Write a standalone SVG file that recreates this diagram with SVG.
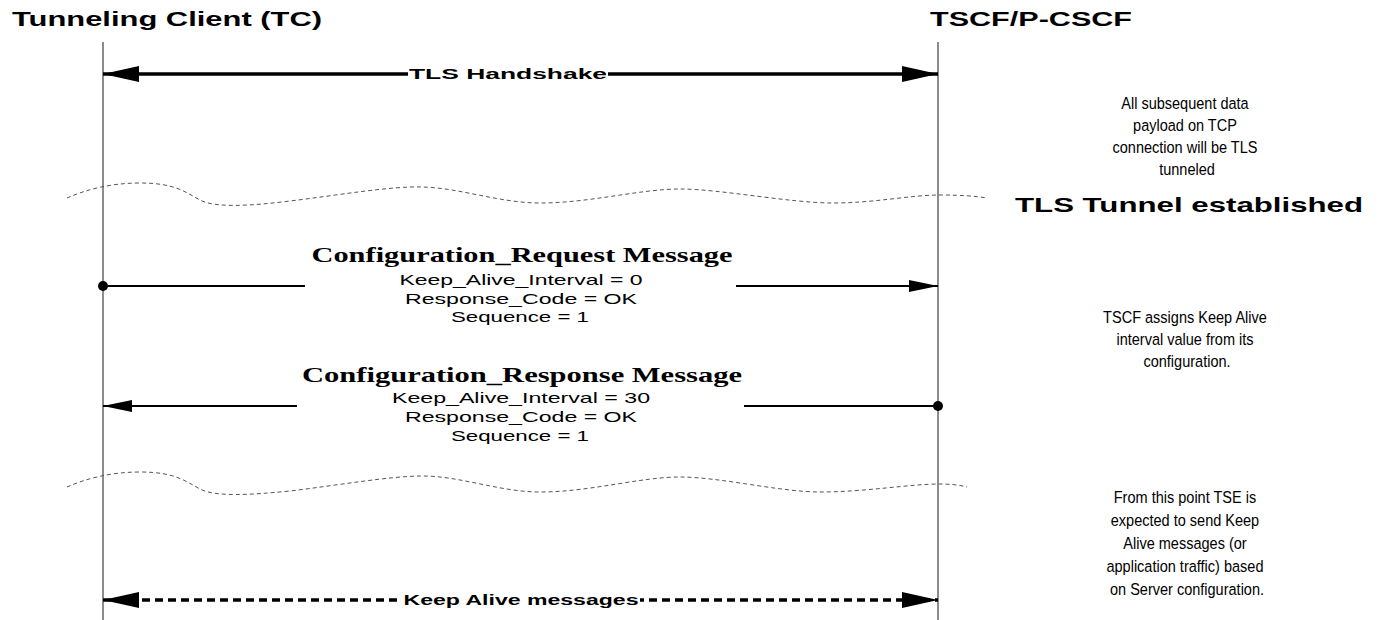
<svg xmlns="http://www.w3.org/2000/svg" width="1381" height="620" viewBox="0 0 1381 620">
  <style>
    .head { font-family: "Liberation Sans", Arial, sans-serif; font-weight: bold; font-size: 20px; fill: #000; }
    .lbl { font-family: "Liberation Sans", Arial, sans-serif; font-weight: bold; font-size: 14px; fill: #000; }
    .msg { font-family: "Liberation Serif", "Times New Roman", serif; font-weight: bold; font-size: 22px; fill: #000; }
    .par { font-family: "Liberation Sans", Arial, sans-serif; font-size: 14.5px; fill: #000; }
    .note { font-family: "Liberation Sans", Arial, sans-serif; font-size: 16.5px; fill: #000; }
    .state { font-family: "Liberation Sans", Arial, sans-serif; font-weight: bold; font-size: 21px; fill: #000; }
    .life { stroke: #666; stroke-width: 1.5; fill: none; }
    .wave { stroke: #555; stroke-width: 1; stroke-dasharray: 4 3; fill: none; }
    .thick { stroke: #000; stroke-width: 3.5; fill: none; }
    .dash { stroke: #000; stroke-width: 3.5; stroke-dasharray: 8 5; fill: none; }
    .thin { stroke: #000; stroke-width: 2; fill: none; }
  </style>
  <defs>
    <marker id="bigEnd" markerUnits="userSpaceOnUse" markerWidth="38" markerHeight="18" refX="36" refY="9" orient="auto">
      <polygon points="0,1 36,9 0,17" fill="#000"/>
    </marker>
    <marker id="bigStart" markerUnits="userSpaceOnUse" markerWidth="38" markerHeight="18" refX="0" refY="9" orient="auto">
      <polygon points="36,1 0,9 36,17" fill="#000"/>
    </marker>
    <marker id="smallEnd" markerUnits="userSpaceOnUse" markerWidth="30" markerHeight="14" refX="29" refY="7" orient="auto">
      <polygon points="0,1 29,7 0,13" fill="#000"/>
    </marker>
    <marker id="smallStart" markerUnits="userSpaceOnUse" markerWidth="30" markerHeight="14" refX="0" refY="7" orient="auto">
      <polygon points="29,1 0,7 29,13" fill="#000"/>
    </marker>
    <marker id="dot" markerUnits="userSpaceOnUse" markerWidth="12" markerHeight="12" refX="6" refY="6">
      <circle cx="6" cy="6" r="5" fill="#000"/>
    </marker>
  </defs>

  <!-- participants -->
  <g id="tc">
    <text class="head" x="12" y="26" textLength="310" lengthAdjust="spacingAndGlyphs">Tunneling Client (TC)</text>
    <line class="life" x1="103" y1="42" x2="103" y2="620"/>
  </g>
  <g id="tscf">
    <text class="head" x="930" y="26" textLength="202" lengthAdjust="spacingAndGlyphs">TSCF/P-CSCF</text>
    <line class="life" x1="938" y1="42" x2="938" y2="620"/>
  </g>

  <!-- state breaks -->
  <g id="break-tunnel">
    <path class="wave" d="M67,198 C85,190 110,183 140,183 C175,183 185,192 200,200 C215,208 250,206 290,201 C340,195 390,186 423,187 C460,188 500,203 540,203 C590,203 640,189 680,189 C720,189 790,203 833,203 C875,203 910,195 940,195 C960,195 975,196 987,198"/>
  </g>
  <g id="break-keepalive">
    <path class="wave" d="M67,487 C85,479 110,472 140,472 C175,472 185,481 200,489 C215,497 250,495 290,491 C340,485 390,476 423,476 C460,476 500,492 540,492 C590,492 640,477 680,477 C720,477 780,492 820,492 C865,492 910,484 940,484 C950,484 960,485 967,487"/>
  </g>

  <!-- connectors -->
  <g id="connectors">
    <line class="thick" x1="103" y1="74" x2="938" y2="74" marker-start="url(#bigStart)" marker-end="url(#bigEnd)"/>
    <path class="thin" d="M103,286 H305" marker-start="url(#dot)"/>
    <path class="thin" d="M736,286 H938" marker-end="url(#smallEnd)"/>
    <path class="thin" d="M103,406 H297" marker-start="url(#smallStart)"/>
    <path class="thin" d="M744,406 H938" marker-end="url(#dot)"/>
    <line class="dash" x1="103" y1="600" x2="938" y2="600" marker-start="url(#bigStart)" marker-end="url(#bigEnd)"/>
  </g>

  <!-- connector labels -->
  <g id="lbl-handshake">
    <rect x="408" y="64" width="200" height="20" fill="#fff"/>
    <text class="lbl" x="508" y="79" text-anchor="middle" textLength="198" lengthAdjust="spacingAndGlyphs">TLS Handshake</text>
  </g>
  <g id="msg-request">
    <text class="msg" x="522" y="262" text-anchor="middle" textLength="421" lengthAdjust="spacingAndGlyphs">Configuration_Request Message</text>
    <text class="par" x="521" y="285" text-anchor="middle" textLength="243" lengthAdjust="spacingAndGlyphs">Keep_Alive_Interval = 0</text>
    <text class="par" x="521" y="304" text-anchor="middle" textLength="232" lengthAdjust="spacingAndGlyphs">Response_Code = OK</text>
    <text class="par" x="520" y="322" text-anchor="middle" textLength="138" lengthAdjust="spacingAndGlyphs">Sequence = 1</text>
  </g>
  <g id="msg-response">
    <text class="msg" x="522" y="382" text-anchor="middle" textLength="440" lengthAdjust="spacingAndGlyphs">Configuration_Response Message</text>
    <text class="par" x="521" y="403" text-anchor="middle" textLength="258" lengthAdjust="spacingAndGlyphs">Keep_Alive_Interval = 30</text>
    <text class="par" x="521" y="422" text-anchor="middle" textLength="232" lengthAdjust="spacingAndGlyphs">Response_Code = OK</text>
    <text class="par" x="520" y="441" text-anchor="middle" textLength="138" lengthAdjust="spacingAndGlyphs">Sequence = 1</text>
  </g>
  <g id="lbl-keepalive">
    <rect x="402" y="590" width="238" height="20" fill="#fff"/>
    <text class="lbl" x="521" y="605" text-anchor="middle" textLength="235" lengthAdjust="spacingAndGlyphs">Keep Alive messages</text>
  </g>

  <!-- side notes (narrow lettering) -->
  <g id="note-tls">
    <text class="note" text-anchor="middle" transform="translate(1187,0) scale(0.88,1) translate(-1187,0)">
      <tspan x="1187" y="109">All subsequent data</tspan>
      <tspan x="1187" y="131">payload on TCP</tspan>
      <tspan x="1187" y="153">connection will be TLS</tspan>
      <tspan x="1187" y="175">tunneled</tspan>
    </text>
    <text class="state" x="1189" y="212" text-anchor="middle" textLength="348" lengthAdjust="spacingAndGlyphs">TLS Tunnel established</text>
  </g>
  <g id="note-assign">
    <text class="note" text-anchor="middle" transform="translate(1187,0) scale(0.88,1) translate(-1187,0)">
      <tspan x="1187" y="323">TSCF assigns Keep Alive</tspan>
      <tspan x="1187" y="345">interval value from its</tspan>
      <tspan x="1187" y="367">configuration.</tspan>
    </text>
  </g>
  <g id="note-keepalive">
    <text class="note" text-anchor="middle" transform="translate(1187,0) scale(0.88,1) translate(-1187,0)">
      <tspan x="1187" y="503">From this point TSE is</tspan>
      <tspan x="1187" y="526">expected to send Keep</tspan>
      <tspan x="1187" y="549">Alive messages (or</tspan>
      <tspan x="1187" y="572">application traffic) based</tspan>
      <tspan x="1187" y="595">on Server configuration.</tspan>
    </text>
  </g>
</svg>
